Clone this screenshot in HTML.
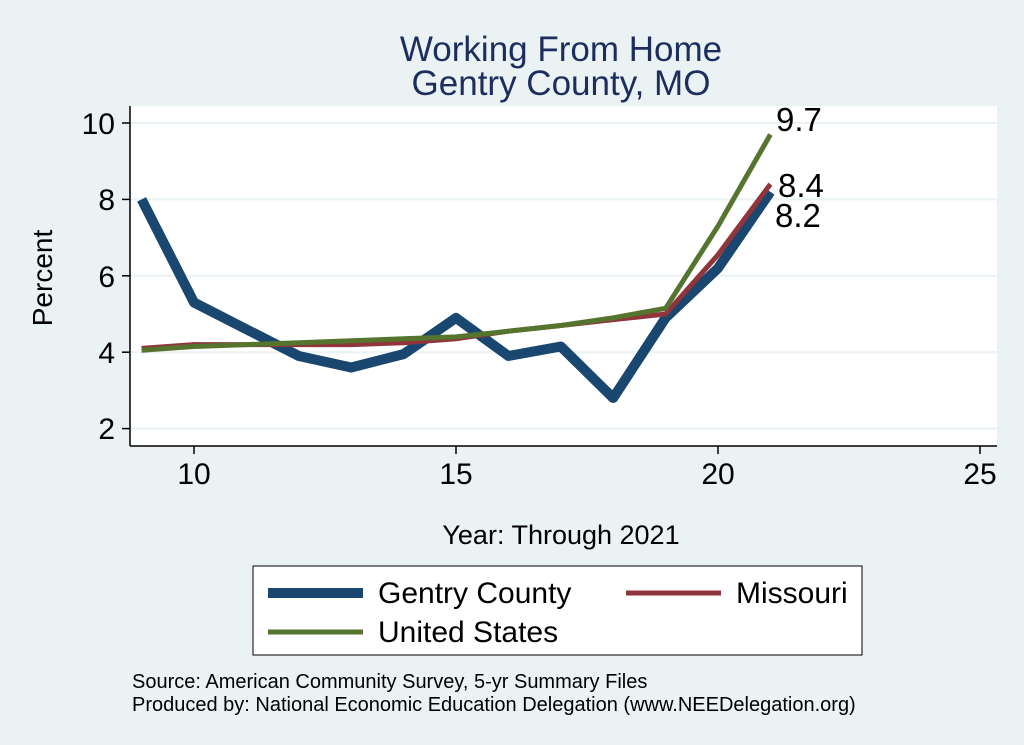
<!DOCTYPE html>
<html><head><meta charset="utf-8"><style>
body{margin:0;background:#eaf2f3;}
svg{display:block;font-family:"Liberation Sans",sans-serif;}
</style></head><body>
<svg width="1024" height="745" viewBox="0 0 1024 745">
<rect width="1024" height="745" fill="#eaf2f3"/>
<text x="561" y="61" font-size="35" fill="#1c2d5e" text-anchor="middle">Working From Home</text>
<text x="561" y="95" font-size="35" fill="#1c2d5e" text-anchor="middle">Gentry County, MO</text>
<rect x="130" y="106" width="867" height="340" fill="#fff"/>
<g stroke="#eaf2f3" stroke-width="2">
<line x1="130" x2="997" y1="123" y2="123"/><line x1="130" x2="997" y1="199.4" y2="199.4"/>
<line x1="130" x2="997" y1="275.8" y2="275.8"/><line x1="130" x2="997" y1="352.2" y2="352.2"/>
<line x1="130" x2="997" y1="428.6" y2="428.6"/></g>
<g stroke="#000" stroke-width="1.5">
<line x1="130" x2="130" y1="106" y2="446"/><line x1="130" x2="997" y1="446" y2="446"/>
<line x1="122" x2="130" y1="123" y2="123"/><line x1="122" x2="130" y1="199.4" y2="199.4"/>
<line x1="122" x2="130" y1="275.8" y2="275.8"/><line x1="122" x2="130" y1="352.2" y2="352.2"/>
<line x1="122" x2="130" y1="428.6" y2="428.6"/>
<line x1="194" x2="194" y1="446" y2="454"/><line x1="456" x2="456" y1="446" y2="454"/>
<line x1="718" x2="718" y1="446" y2="454"/><line x1="980" x2="980" y1="446" y2="454"/></g>
<g font-size="30" fill="#000" text-anchor="end">
<text x="115" y="134">10</text><text x="115" y="210">8</text><text x="115" y="287">6</text><text x="115" y="363">4</text><text x="115" y="439">2</text></g>
<g font-size="30" fill="#000" text-anchor="middle">
<text x="194" y="484">10</text><text x="456" y="484">15</text><text x="718" y="484">20</text><text x="980" y="484">25</text></g>
<text x="561" y="544" font-size="27" text-anchor="middle">Year: Through 2021</text>
<text transform="translate(52,278) rotate(-90)" font-size="28" text-anchor="middle">Percent</text>
<polyline fill="none" stroke="#1a476f" stroke-width="10" stroke-linejoin="round" points="141.6,199.4 194,302.5 246.4,329.3 298.8,356 351.2,367.5 403.6,354.1 456,317.9 508.4,356 560.8,346.5 613.2,398 665.6,317.9 718,268.2 770.4,191.8"/>
<polyline fill="none" stroke="#90353b" stroke-width="5" stroke-linejoin="round" points="141.6,348.4 194,344.6 246.4,344.6 298.8,344.6 351.2,344.6 403.6,342.7 456,338.8 508.4,331.2 560.8,325.5 613.2,319.7 665.6,314 718,254.8 770.4,184.1"/>
<polyline fill="none" stroke="#55752f" stroke-width="5" stroke-linejoin="round" points="141.6,350.3 194,346.5 246.4,344.6 298.8,342.7 351.2,340.8 403.6,338.8 456,336.9 508.4,331.2 560.8,325.5 613.2,317.8 665.6,308.3 718,226.1 770.4,134.5"/>
<g font-size="33" fill="#000"><text x="776" y="131">9.7</text><text x="778" y="197">8.4</text><text x="775" y="227">8.2</text></g>
<rect x="253" y="566" width="609" height="89" fill="#fff" stroke="#000" stroke-width="1"/>
<line x1="268" x2="363" y1="593" y2="593" stroke="#1a476f" stroke-width="10"/>
<text x="378" y="603" font-size="30">Gentry County</text>
<line x1="626" x2="721" y1="593" y2="593" stroke="#90353b" stroke-width="5"/>
<text x="736" y="603" font-size="30">Missouri</text>
<line x1="268" x2="363" y1="632" y2="632" stroke="#55752f" stroke-width="5"/>
<text x="378" y="642" font-size="30">United States</text>
<text x="132" y="688" font-size="20">Source: American Community Survey, 5-yr Summary Files</text>
<text x="132" y="711" font-size="20">Produced by: National Economic Education Delegation (www.NEEDelegation.org)</text>
</svg>
</body></html>
